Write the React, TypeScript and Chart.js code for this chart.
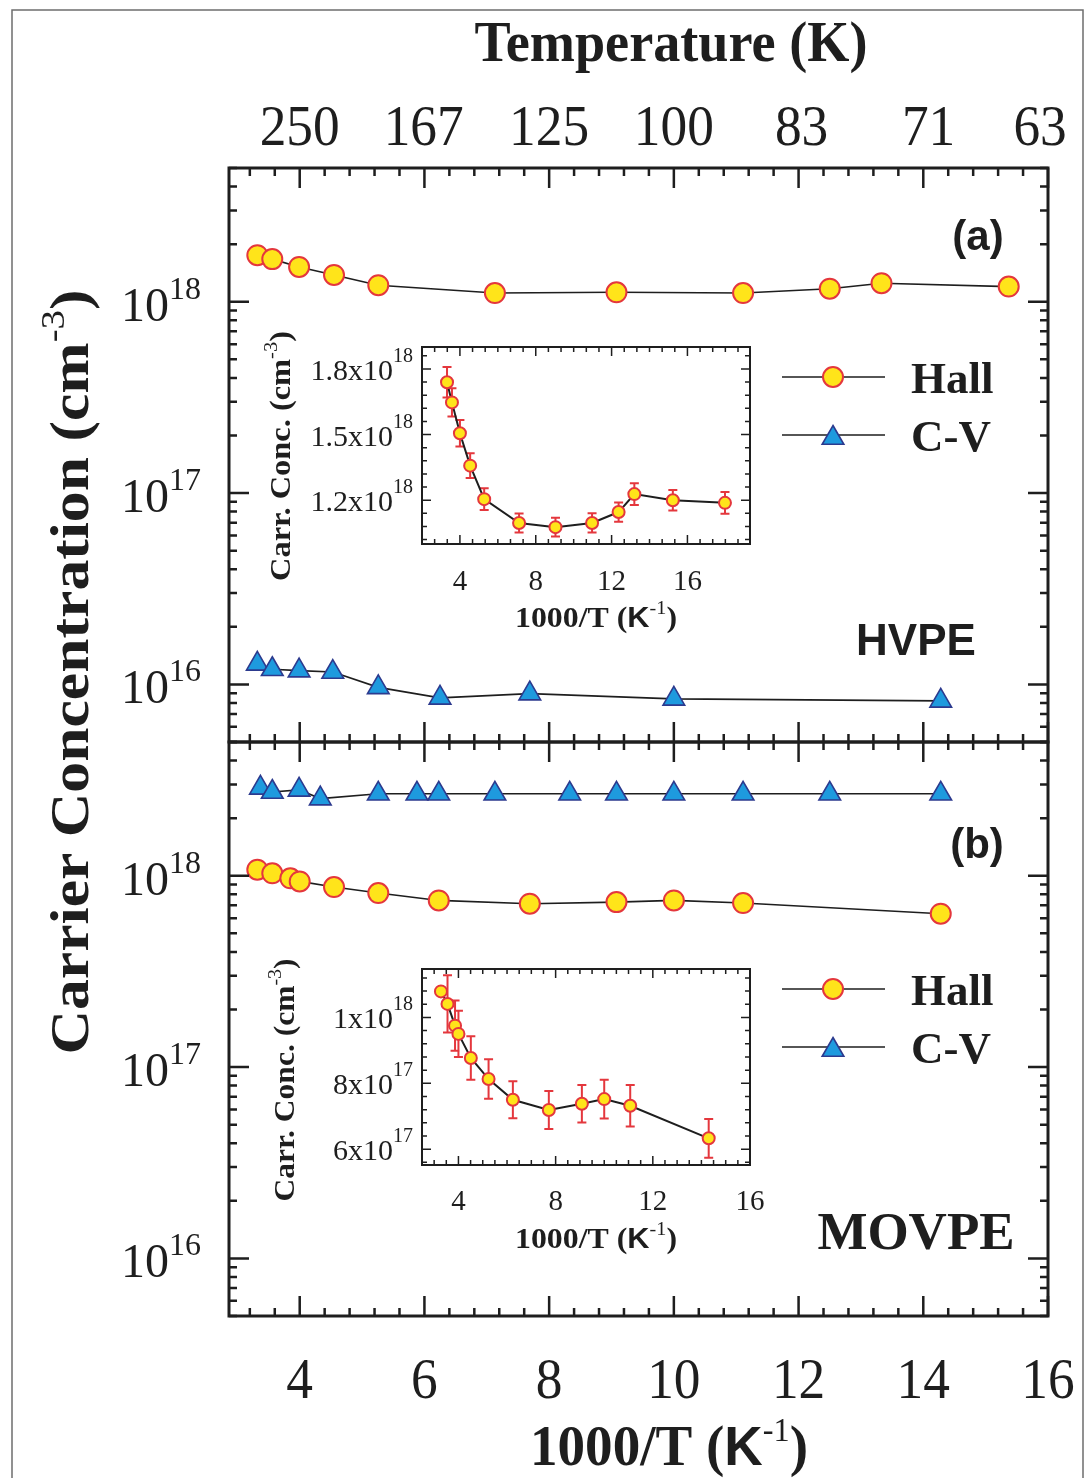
import React, { useEffect, useRef } from 'react';
import { Chart, registerables } from 'chart.js';
Chart.register(...registerables);

const W = 1091;
const H = 1478;
const SERIF = '"Liberation Serif", "Times New Roman", serif';
const SANS = '"Liberation Sans", Arial, sans-serif';
const INK = '#1e1e1e';
const YELLOW = '#ffe41a';
const RED = '#e4373d';
const BLUE = '#1e9ade';
const NAVY = '#2c3a8e';

// ---------------- data ----------------
const xMajorTicks = [4, 6, 8, 10, 12, 14, 16];
const tempK = [250, 167, 125, 100, 83, 71, 63];
const tempLabels = ['250', '167', '125', '100', '83', '71', '63'];
const decades = [1e16, 1e17, 1e18];
const decadeExp = ['16', '17', '18'];

// (a) HVPE
const hvpeHallX = [3.32, 3.56, 3.99, 4.55, 5.26, 7.13, 9.08, 11.11, 12.5, 13.33, 15.37];
const hvpeHallY = [1.75e18, 1.67e18, 1.52e18, 1.38e18, 1.22e18, 1.11e18, 1.12e18, 1.11e18, 1.17e18, 1.25e18, 1.2e18];
const hvpeCvX = [3.32, 3.56, 3.99, 4.53, 5.26, 6.25, 7.69, 10.0, 14.28];
const hvpeCvY = [1.28e16, 1.2e16, 1.18e16, 1.16e16, 9.65e15, 8.5e15, 8.95e15, 8.4e15, 8.2e15];

// (b) MOVPE
const movpeHallX = [3.32, 3.56, 3.85, 4.0, 4.55, 5.26, 6.23, 7.69, 9.08, 10.0, 11.11, 14.28];
const movpeHallY = [1.075e18, 1.03e18, 9.7e17, 9.34e17, 8.73e17, 8.12e17, 7.43e17, 7.14e17, 7.28e17, 7.43e17, 7.2e17, 6.33e17];
const movpeCvX = [3.37, 3.56, 3.99, 4.33, 5.26, 5.88, 6.23, 7.13, 8.33, 9.08, 10.0, 11.11, 12.5, 14.28];
const movpeCvY = [2.88e18, 2.74e18, 2.81e18, 2.53e18, 2.68e18, 2.68e18, 2.68e18, 2.68e18, 2.68e18, 2.68e18, 2.68e18, 2.68e18, 2.68e18, 2.68e18];

// inset (a)
const insetAX = [3.32, 3.58, 4.0, 4.54, 5.28, 7.12, 9.04, 10.97, 12.37, 13.2, 15.23, 17.98];
const insetAY = [1.739e18, 1.647e18, 1.506e18, 1.358e18, 1.205e18, 1.096e18, 1.077e18, 1.096e18, 1.146e18, 1.228e18, 1.2e18, 1.188e18];
const insetAErr = [0.07e18, 0.065e18, 0.06e18, 0.057e18, 0.05e18, 0.043e18, 0.043e18, 0.044e18, 0.044e18, 0.05e18, 0.047e18, 0.05e18];
const insetAYTicks = [1.2e18, 1.5e18, 1.8e18];
const insetAYMant = ['1.2', '1.5', '1.8'];
const insetAYExp = ['18', '18', '18'];

// inset (b)
const insetBX = [3.28, 3.55, 3.86, 4.0, 4.51, 5.24, 6.24, 7.72, 9.08, 10.0, 11.07, 14.3];
const insetBY = [1.079e18, 1.041e18, 0.975e18, 0.95e18, 0.877e18, 0.813e18, 0.75e18, 0.719e18, 0.738e18, 0.752e18, 0.732e18, 0.633e18];
const insetBErr = [0, 0.087e18, 0.076e18, 0.07e18, 0.066e18, 0.06e18, 0.056e18, 0.058e18, 0.057e18, 0.059e18, 0.063e18, 0.059e18];
const insetBYTicks = [6e17, 8e17, 1e18];
const insetBYMant = ['6', '8', '1'];
const insetBYExp = ['17', '17', '18'];

const insetXTicks = [4, 8, 12, 16];

// ---------------- helpers ----------------
type Seg = { t: string; f: string; dy?: number };
type RichOpts = { align?: 'left' | 'center' | 'right'; sx?: number; rot?: number; fitW?: number; color?: string };

function rich(ctx: CanvasRenderingContext2D, segs: Seg[], x: number, y: number, o: RichOpts = {}) {
  ctx.save();
  ctx.translate(x, y);
  if (o.rot) ctx.rotate(o.rot);
  ctx.fillStyle = o.color || INK;
  ctx.textAlign = 'left';
  ctx.textBaseline = 'alphabetic';
  const ws = segs.map((s) => {
    ctx.font = s.f;
    return ctx.measureText(s.t).width;
  });
  const tw = ws.reduce((a, b) => a + b, 0);
  const sx = o.fitW ? o.fitW / tw : o.sx ?? 1;
  ctx.scale(sx, 1);
  const align = o.align || 'center';
  let cx = align === 'right' ? -tw : align === 'left' ? 0 : -tw / 2;
  segs.forEach((s, i) => {
    ctx.font = s.f;
    ctx.fillText(s.t, cx, s.dy || 0);
    cx += ws[i];
  });
  ctx.restore();
}

type Tick = { v: number; major: boolean };
function linTicks(min: number, max: number, major: number, n: number): Tick[] {
  const step = major / n;
  const out: Tick[] = [];
  for (let k = Math.ceil(min / step - 1e-9); k * step <= max + 1e-9; k++) {
    out.push({ v: k * step, major: ((k % n) + n) % n === 0 });
  }
  return out;
}
function logTicks(min: number, max: number): Tick[] {
  const out: Tick[] = [];
  for (let e = Math.floor(Math.log10(min)); e <= Math.ceil(Math.log10(max)); e++) {
    for (let m = 1; m <= 9; m++) {
      const v = m * Math.pow(10, e);
      if (v >= min * 0.999 && v <= max * 1.001) out.push({ v, major: m === 1 });
    }
  }
  return out;
}

function drawBox(chart: any, xt: Tick[], yt: Tick[], o: { frameW: number; tickW: number; majLen: number; minLen: number }) {
  const ctx: CanvasRenderingContext2D = chart.ctx;
  const { left, right, top, bottom } = chart.chartArea;
  const xs = chart.scales.x;
  const ys = chart.scales.y;
  ctx.save();
  ctx.strokeStyle = INK;
  ctx.lineWidth = o.tickW;
  ctx.beginPath();
  for (const t of xt) {
    const px = xs.getPixelForValue(t.v);
    if (px < left - 0.5 || px > right + 0.5) continue;
    const L = t.major ? o.majLen : o.minLen;
    ctx.moveTo(px, bottom);
    ctx.lineTo(px, bottom - L);
    ctx.moveTo(px, top);
    ctx.lineTo(px, top + L);
  }
  for (const t of yt) {
    const py = ys.getPixelForValue(t.v);
    if (py < top - 0.5 || py > bottom + 0.5) continue;
    const L = t.major ? o.majLen : o.minLen;
    ctx.moveTo(left, py);
    ctx.lineTo(left + L, py);
    ctx.moveTo(right, py);
    ctx.lineTo(right - L, py);
  }
  ctx.stroke();
  ctx.lineWidth = o.frameW;
  ctx.strokeRect(left, top, right - left, bottom - top);
  ctx.restore();
}

function drawCircle(ctx: CanvasRenderingContext2D, x: number, y: number, r: number) {
  ctx.beginPath();
  ctx.arc(x, y, r, 0, Math.PI * 2);
  ctx.fillStyle = YELLOW;
  ctx.fill();
  ctx.lineWidth = 2;
  ctx.strokeStyle = RED;
  ctx.stroke();
}
function drawTriangle(ctx: CanvasRenderingContext2D, x: number, y: number, r: number) {
  ctx.beginPath();
  for (let i = 0; i < 3; i++) {
    const a = (i * 2 * Math.PI) / 3;
    const px = x + Math.sin(a) * r;
    const py = y - Math.cos(a) * r;
    if (i === 0) ctx.moveTo(px, py);
    else ctx.lineTo(px, py);
  }
  ctx.closePath();
  ctx.fillStyle = BLUE;
  ctx.fill();
  ctx.lineWidth = 1.6;
  ctx.strokeStyle = NAVY;
  ctx.stroke();
}

function legend(ctx: CanvasRenderingContext2D, yHall: number, yCv: number) {
  const rows: [number, string, (c: CanvasRenderingContext2D, x: number, y: number) => void][] = [
    [yHall, 'Hall', (c, x, y) => drawCircle(c, x, y, 10)],
    [yCv, 'C-V', (c, x, y) => drawTriangle(c, x, y + 3, 12.5)],
  ];
  ctx.save();
  for (const [y, label, mk] of rows) {
    ctx.strokeStyle = INK;
    ctx.lineWidth = 1.6;
    ctx.beginPath();
    ctx.moveTo(782, y);
    ctx.lineTo(885, y);
    ctx.stroke();
    mk(ctx, 833, y);
    rich(ctx, [{ t: label, f: `bold 45px ${SERIF}` }], 911, y + 16, { align: 'left' });
  }
  ctx.restore();
}

function pts(xs: number[], ys: number[]) {
  return xs.map((x, i) => ({ x, y: ys[i] }));
}

const hallStyle = {
  showLine: true,
  borderColor: INK,
  borderWidth: 1.6,
  pointBackgroundColor: YELLOW,
  pointBorderColor: RED,
  pointBorderWidth: 2,
  pointRadius: 10,
  pointStyle: 'circle',
  fill: false,
};
const cvStyle = {
  showLine: true,
  borderColor: INK,
  borderWidth: 1.6,
  pointBackgroundColor: BLUE,
  pointBorderColor: NAVY,
  pointBorderWidth: 1.6,
  pointRadius: 12.5,
  pointStyle: 'triangle',
  fill: false,
};

const X_MIN = 2.866;
const X_MAX = 16;
const Y_MIN = 5e15;
const Y_MAX = 5e18;

function yDecadeLabels(chart: any) {
  const ctx: CanvasRenderingContext2D = chart.ctx;
  const ys = chart.scales.y;
  decades.forEach((v, i) => {
    const y = ys.getPixelForValue(v);
    rich(
      ctx,
      [
        { t: '10', f: `48px ${SERIF}` },
        { t: decadeExp[i], f: `32px ${SERIF}`, dy: -22 },
      ],
      201,
      y + 19,
      { align: 'right' }
    );
  });
}

function mainConfig(datasets: any[], padTop: number, padBottom: number, draw: (chart: any) => void) {
  return {
    type: 'scatter',
    data: { datasets },
    options: {
      responsive: false,
      animation: false,
      devicePixelRatio: 1,
      events: [],
      layout: { padding: { left: 229, right: W - 1048, top: padTop, bottom: padBottom } },
      plugins: { legend: { display: false }, tooltip: { enabled: false }, title: { display: false } },
      scales: {
        x: { type: 'linear', display: false, min: X_MIN, max: X_MAX },
        y: { type: 'logarithmic', display: false, min: Y_MIN, max: Y_MAX },
      },
    },
    plugins: [
      {
        id: 'mainDecor',
        afterDraw(chart: any) {
          drawBox(chart, linTicks(X_MIN, X_MAX, 2, 5), logTicks(Y_MIN, Y_MAX), {
            frameW: 3,
            tickW: 2.5,
            majLen: 20,
            minLen: 8,
          });
          draw(chart);
        },
      },
    ],
  } as any;
}

function topConfig() {
  return mainConfig(
    [
      { ...hallStyle, data: pts(hvpeHallX, hvpeHallY) },
      { ...cvStyle, data: pts(hvpeCvX, hvpeCvY) },
    ],
    168,
    H - 742,
    (chart) => {
      const ctx: CanvasRenderingContext2D = chart.ctx;
      const xs = chart.scales.x;
      // outer border of figure
      ctx.save();
      ctx.strokeStyle = '#6e6e6e';
      ctx.lineWidth = 1.5;
      ctx.beginPath();
      ctx.moveTo(12, H);
      ctx.lineTo(12, 10);
      ctx.lineTo(1083, 10);
      ctx.lineTo(1083, H);
      ctx.stroke();
      ctx.restore();
      // top title and temperature ticks
      rich(ctx, [{ t: 'Temperature (K)', f: `bold 58px ${SERIF}` }], 671, 61, { fitW: 393 });
      tempK.forEach((T, i) => {
        rich(ctx, [{ t: tempLabels[i], f: `58px ${SERIF}` }], xs.getPixelForValue(1000 / T), 145, { sx: 0.92 });
      });
      yDecadeLabels(chart);
      legend(ctx, 377, 435);
      rich(ctx, [{ t: '(a)', f: `bold 42px ${SANS}` }], 978, 250);
      rich(ctx, [{ t: 'HVPE', f: `bold 44px ${SANS}` }], 916, 655);
      // y axis title (shared)
      rich(
        ctx,
        [
          { t: 'Carrier Concentration (cm', f: `bold 54px ${SERIF}` },
          { t: '-3', f: `34px ${SERIF}`, dy: -24 },
          { t: ')', f: `bold 54px ${SERIF}` },
        ],
        88,
        672,
        { rot: -Math.PI / 2, fitW: 765 }
      );
    }
  );
}

function bottomConfig() {
  return mainConfig(
    [
      { ...hallStyle, data: pts(movpeHallX, movpeHallY) },
      { ...cvStyle, data: pts(movpeCvX, movpeCvY) },
    ],
    742,
    H - 1316,
    (chart) => {
      const ctx: CanvasRenderingContext2D = chart.ctx;
      const xs = chart.scales.x;
      xMajorTicks.forEach((v) => {
        rich(ctx, [{ t: String(v), f: `58px ${SERIF}` }], xs.getPixelForValue(v), 1398, { sx: 0.92 });
      });
      rich(
        ctx,
        [
          { t: '1000/T (', f: `bold 58px ${SERIF}` },
          { t: 'K', f: `bold 56px ${SANS}` },
          { t: '-1', f: `34px ${SERIF}`, dy: -24 },
          { t: ')', f: `bold 58px ${SERIF}` },
        ],
        669,
        1465,
        { fitW: 278 }
      );
      yDecadeLabels(chart);
      legend(ctx, 989, 1047);
      rich(ctx, [{ t: '(b)', f: `bold 42px ${SANS}` }], 977, 858);
      rich(ctx, [{ t: 'MOVPE', f: `bold 53px ${SERIF}` }], 916, 1249);
    }
  );
}

type InsetSpec = {
  xs: number[];
  ys: number[];
  errs: number[];
  area: { l: number; r: number; t: number; b: number };
  xMin: number;
  xMax: number;
  yMin: number;
  yMax: number;
  xMinorN: number;
  yMajor: number;
  yTicks: number[];
  yMant: string[];
  yExp: string[];
  xLabelBase: number;
  xTitleBase: number;
  yTitleX: number;
  yTitleY: number;
  yTitleLen: number;
};

function insetConfig(s: InsetSpec) {
  return {
    type: 'scatter',
    data: {
      datasets: [
        {
          showLine: true,
          borderColor: INK,
          borderWidth: 2,
          pointBackgroundColor: YELLOW,
          pointBorderColor: RED,
          pointBorderWidth: 2,
          pointRadius: 6,
          data: pts(s.xs, s.ys),
        },
      ],
    },
    options: {
      responsive: false,
      animation: false,
      devicePixelRatio: 1,
      events: [],
      layout: { padding: { left: s.area.l, right: W - s.area.r, top: s.area.t, bottom: H - s.area.b } },
      plugins: { legend: { display: false }, tooltip: { enabled: false } },
      scales: {
        x: { type: 'linear', display: false, min: s.xMin, max: s.xMax },
        y: { type: 'linear', display: false, min: s.yMin, max: s.yMax },
      },
    },
    plugins: [
      {
        id: 'insetDecor',
        beforeDatasetsDraw(chart: any) {
          const ctx: CanvasRenderingContext2D = chart.ctx;
          const xs = chart.scales.x;
          const ys = chart.scales.y;
          const { left, right, top, bottom } = chart.chartArea;
          ctx.save();
          ctx.beginPath();
          ctx.rect(left, top, right - left, bottom - top);
          ctx.clip();
          ctx.strokeStyle = RED;
          ctx.lineWidth = 2;
          ctx.beginPath();
          s.xs.forEach((x, i) => {
            const e = s.errs[i];
            if (!e) return;
            const px = xs.getPixelForValue(x);
            const y1 = ys.getPixelForValue(s.ys[i] - e);
            const y2 = ys.getPixelForValue(s.ys[i] + e);
            ctx.moveTo(px, y1);
            ctx.lineTo(px, y2);
            ctx.moveTo(px - 4.5, y1);
            ctx.lineTo(px + 4.5, y1);
            ctx.moveTo(px - 4.5, y2);
            ctx.lineTo(px + 4.5, y2);
          });
          ctx.stroke();
          ctx.restore();
        },
        afterDraw(chart: any) {
          const ctx: CanvasRenderingContext2D = chart.ctx;
          const xs = chart.scales.x;
          const ys = chart.scales.y;
          drawBox(chart, linTicks(s.xMin, s.xMax, 4, s.xMinorN), linTicks(s.yMin, s.yMax, s.yMajor, 5), {
            frameW: 2,
            tickW: 1.5,
            majLen: 9,
            minLen: 5,
          });
          s.yTicks.forEach((v, i) => {
            rich(
              ctx,
              [
                { t: s.yMant[i] + 'x10', f: `30px ${SERIF}` },
                { t: s.yExp[i], f: `20px ${SERIF}`, dy: -18 },
              ],
              413,
              ys.getPixelForValue(v) + 11,
              { align: 'right' }
            );
          });
          insetXTicks.forEach((v) => {
            rich(ctx, [{ t: String(v), f: `29px ${SERIF}` }], xs.getPixelForValue(v), s.xLabelBase);
          });
          rich(
            ctx,
            [
              { t: '1000/T (', f: `bold 30px ${SERIF}` },
              { t: 'K', f: `bold 29px ${SANS}` },
              { t: '-1', f: `19px ${SERIF}`, dy: -13 },
              { t: ')', f: `bold 30px ${SERIF}` },
            ],
            596,
            s.xTitleBase,
            { fitW: 162 }
          );
          rich(
            ctx,
            [
              { t: 'Carr. Conc. (cm', f: `bold 30px ${SERIF}` },
              { t: '-3', f: `19px ${SERIF}`, dy: -13 },
              { t: ')', f: `bold 30px ${SERIF}` },
            ],
            s.yTitleX,
            s.yTitleY,
            { rot: -Math.PI / 2, fitW: s.yTitleLen }
          );
        },
      },
    ],
  } as any;
}

export default function App() {
  const r1 = useRef<HTMLCanvasElement>(null);
  const r2 = useRef<HTMLCanvasElement>(null);
  const r3 = useRef<HTMLCanvasElement>(null);
  const r4 = useRef<HTMLCanvasElement>(null);

  useEffect(() => {
    const charts = [
      new Chart(r1.current as HTMLCanvasElement, topConfig()),
      new Chart(r2.current as HTMLCanvasElement, bottomConfig()),
      new Chart(
        r3.current as HTMLCanvasElement,
        insetConfig({
          xs: insetAX,
          ys: insetAY,
          errs: insetAErr,
          area: { l: 422, r: 750, t: 347, b: 544 },
          xMin: 2,
          xMax: 19.3,
          yMin: 1.0e18,
          yMax: 1.9e18,
          xMinorN: 6,
          yMajor: 0.3e18,
          yTicks: insetAYTicks,
          yMant: insetAYMant,
          yExp: insetAYExp,
          xLabelBase: 590,
          xTitleBase: 627,
          yTitleX: 290,
          yTitleY: 456,
          yTitleLen: 250,
        })
      ),
      new Chart(
        r4.current as HTMLCanvasElement,
        insetConfig({
          xs: insetBX,
          ys: insetBY,
          errs: insetBErr,
          area: { l: 422, r: 750, t: 969, b: 1165 },
          xMin: 2.5,
          xMax: 16,
          yMin: 0.552e18,
          yMax: 1.147e18,
          xMinorN: 8,
          yMajor: 0.2e18,
          yTicks: insetBYTicks,
          yMant: insetBYMant,
          yExp: insetBYExp,
          xLabelBase: 1210,
          xTitleBase: 1248,
          yTitleX: 294,
          yTitleY: 1080,
          yTitleLen: 243,
        })
      ),
    ];
    return () => charts.forEach((c) => c.destroy());
  }, []);

  const cs: React.CSSProperties = { position: 'absolute', left: 0, top: 0, width: W, height: H };
  return (
    <div style={{ position: 'absolute', left: 0, top: 0, width: W, height: H, background: '#fff', overflow: 'hidden' }}>
      <canvas ref={r1} width={W} height={H} style={cs} />
      <canvas ref={r2} width={W} height={H} style={cs} />
      <canvas ref={r3} width={W} height={H} style={cs} />
      <canvas ref={r4} width={W} height={H} style={cs} />
    </div>
  );
}
